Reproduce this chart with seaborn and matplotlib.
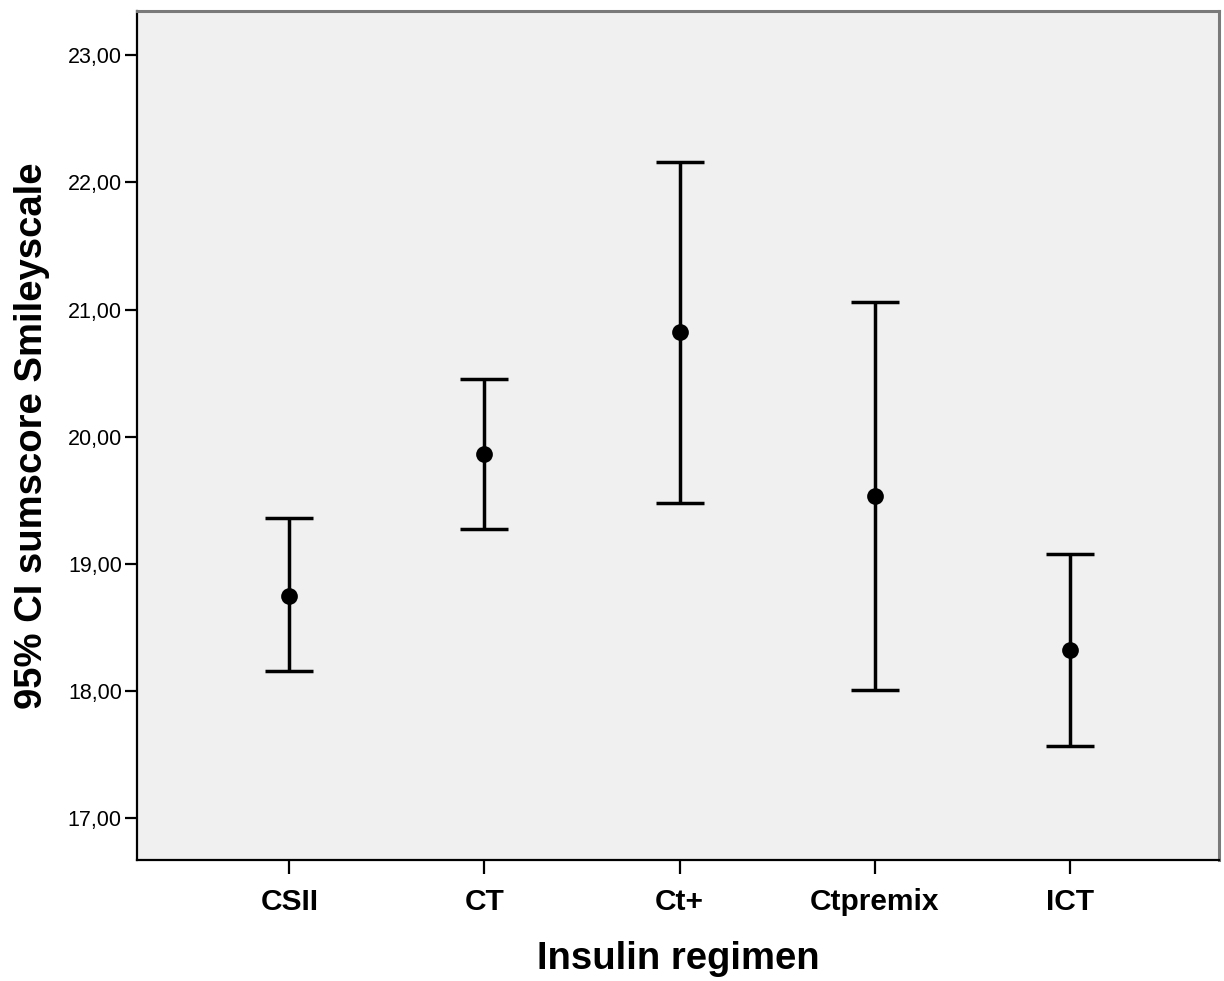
import numpy as np
import pandas as pd
import matplotlib
matplotlib.use("Agg")
import matplotlib.pyplot as plt
import seaborn as sns
from matplotlib.ticker import FuncFormatter

# data
regimens = ["CSII", "CT", "Ct+", "Ctpremix", "ICT"]
means = [18.75, 19.86, 20.82, 19.53, 18.32]
ci_lower = [18.16, 19.27, 19.48, 18.01, 17.57]
ci_upper = [19.36, 20.45, 22.16, 21.06, 19.08]
yticks = [17, 18, 19, 20, 21, 22, 23]

df = pd.DataFrame({"regimen": regimens, "mean": means,
                   "lo": ci_lower, "hi": ci_upper})
df["x"] = np.arange(len(df))

sns.set_style("white")
plt.rcParams["font.family"] = ["Liberation Sans", "DejaVu Sans"]
plt.rcParams["text.color"] = "black"
plt.rcParams["axes.labelcolor"] = "black"

fig = plt.figure(figsize=(12.24, 9.81), dpi=100)
ax = fig.add_axes([0.112, 0.1233, 0.884, 0.8657])
ax.set_facecolor("#f0f0f0")

# CI error bars
ax.errorbar(df["x"], df["mean"],
            yerr=[df["mean"] - df["lo"], df["hi"] - df["mean"]],
            fmt="none", ecolor="black", elinewidth=2.5,
            capsize=17.5, capthick=2.5, zorder=2)
# means
sns.scatterplot(data=df, x="x", y="mean", ax=ax, color="black",
                s=145, edgecolor="black", linewidth=0, zorder=3)

ax.set_xlim(-0.78, 4.765)
ax.set_ylim(16.67, 23.35)
ax.set_xticks(df["x"])
ax.set_xticklabels(regimens, fontsize=21.5, fontweight="bold")
ax.set_yticks(yticks)
ax.yaxis.set_major_formatter(FuncFormatter(lambda v, p: f"{v:.2f}".replace(".", ",")))
ax.tick_params(axis="y", labelsize=15.5, length=9, width=1.6, direction="out",
               left=True, pad=2, colors="black")
ax.tick_params(axis="x", length=10, width=1.6, direction="out",
               bottom=True, pad=10, colors="black")

for side in ["left", "bottom"]:
    ax.spines[side].set_color("black")
    ax.spines[side].set_linewidth(1.6)
for side in ["top", "right"]:
    ax.spines[side].set_color("#7a7a7a")
    ax.spines[side].set_linewidth(2.2)

ax.set_xlabel("Insulin regimen", fontsize=27.5, fontweight="bold", labelpad=18)
ax.set_ylabel("95% CI sumscore Smileyscale", fontsize=27.5, fontweight="bold", labelpad=13)

fig.savefig("out.png", dpi=100, facecolor="white")
